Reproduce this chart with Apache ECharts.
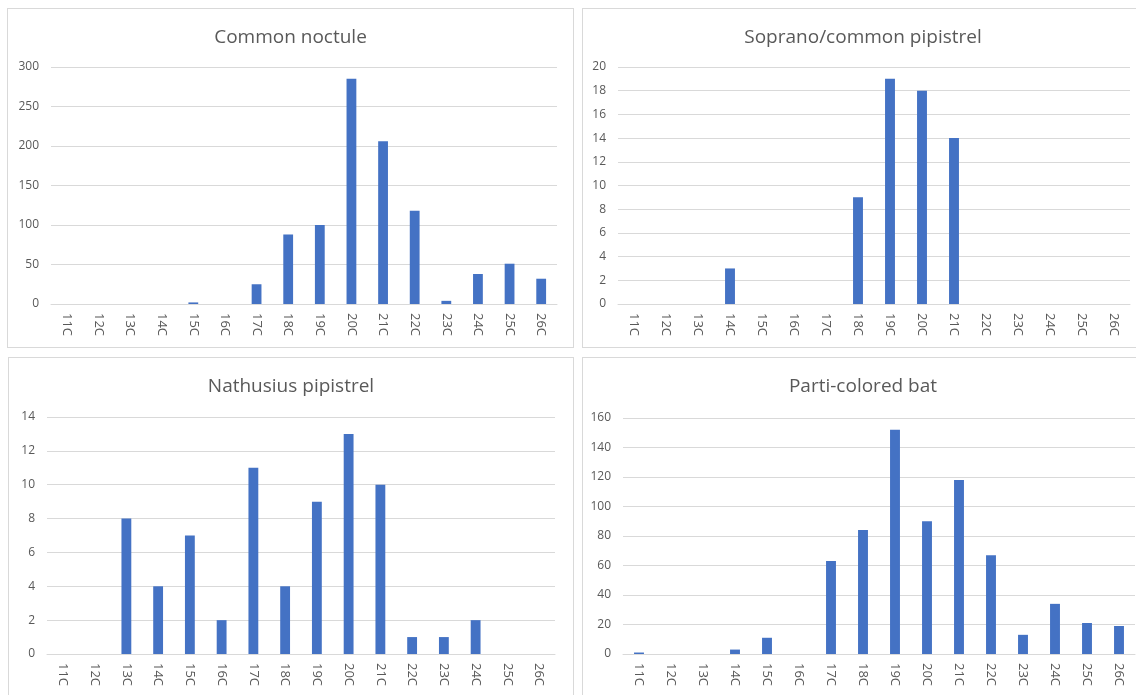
<!DOCTYPE html>
<html>
<head>
<meta charset="utf-8">
<script src="https://cdn.jsdelivr.net/npm/echarts@6/dist/echarts.min.js"></script>
<style>
  html, body { margin: 0; padding: 0; background: #fff; width: 1136px; height: 695px; overflow: hidden; }
  .panel { position: absolute; border: 1px solid #d9d9d9; box-sizing: border-box; background: #fff; }
</style>
</head>
<body>
<div id="p1" class="panel" style="left:7px;top:8px;width:567px;height:340px;"></div>
<div id="p2" class="panel" style="left:582px;top:8px;width:562px;height:340px;"></div>
<div id="p3" class="panel" style="left:8px;top:357px;width:566px;height:346px;"></div>
<div id="p4" class="panel" style="left:582px;top:357px;width:562px;height:346px;"></div>
<script>
// temperature categories
const temps = ['11C', '12C', '13C', '14C', '15C', '16C', '17C', '18C', '19C', '20C', '21C', '22C', '23C', '24C', '25C', '26C'];

// counts per species
const commonNoctule = [0, 0, 0, 0, 2, 0, 25, 88, 100, 285, 206, 118, 4, 38, 51, 32];
const sopranoPipistrel = [0, 0, 0, 3, 0, 0, 0, 9, 19, 18, 14, 0, 0, 0, 0, 0];
const nathusiusPipistrel = [0, 0, 8, 4, 7, 2, 11, 4, 9, 13, 10, 1, 1, 2, 0, 0];
const partiColoredBat = [1, 0, 0, 3, 11, 0, 63, 84, 152, 90, 118, 67, 13, 34, 21, 19];

const FONT = '"Open Sans", "Liberation Sans", sans-serif';
const TEXT = '#595959';
const GRID_LINE = '#d9d9d9';
const BAR = '#4472C4';

function drawPanel(id, title, data, yMax, yStep, grid) {
  const chart = echarts.init(document.getElementById(id));
  chart.setOption({
    animation: false,
    title: {
      text: title, left: 'center', top: 14,
      textStyle: { color: TEXT, fontSize: 19, fontWeight: 'normal', fontFamily: FONT }
    },
    grid: Object.assign({ containLabel: false }, grid),
    xAxis: {
      type: 'category', data: temps,
      axisLine: { lineStyle: { color: GRID_LINE, width: 1 } },
      axisTick: { show: false },
      axisLabel: { rotate: -90, interval: 0, color: TEXT, fontSize: 13, fontFamily: FONT, margin: 9 }
    },
    yAxis: {
      type: 'value', min: 0, max: yMax, interval: yStep,
      axisLine: { show: false }, axisTick: { show: false },
      axisLabel: { color: TEXT, fontSize: 12, fontFamily: FONT, margin: 12 },
      splitLine: { lineStyle: { color: GRID_LINE, width: 1 } }
    },
    series: [{ type: 'bar', data, barWidth: '31%', itemStyle: { color: BAR } }]
  });
  return chart;
}

drawPanel('p1', 'Common noctule', commonNoctule, 300, 50, { left: 43, right: 16, top: 58, bottom: 43 });
drawPanel('p2', 'Soprano/common pipistrel', sopranoPipistrel, 20, 2, { left: 35, right: 13, top: 58, bottom: 43 });
drawPanel('p3', 'Nathusius pipistrel', nathusiusPipistrel, 14, 2, { left: 38, right: 18, top: 59, bottom: 48 });
drawPanel('p4', 'Parti-colored bat', partiColoredBat, 160, 20, { left: 40, right: 8, top: 60, bottom: 48 });
</script>
</body>
</html>
